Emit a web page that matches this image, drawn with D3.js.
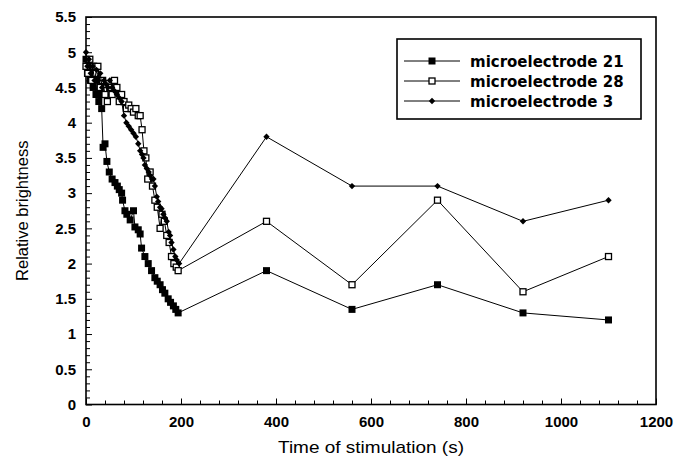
<!DOCTYPE html>
<html><head><meta charset="utf-8">
<script src="https://cdn.jsdelivr.net/npm/d3@7"></script>
<style>
html,body{margin:0;padding:0;background:#fff;}
svg{display:block;}
</style></head>
<body>
<div id="chart"></div>
<script>
// ---- data ----
const seriesNames = ["microelectrode 21", "microelectrode 28", "microelectrode 3"];
const t21 = [0,3,6,9,12,15,18,21,24,27,30,33,36,40,44,49,55,61,66,70,75,77,82,86,93,100,103,110,114,117,124,131,138,145,150,156,161,166,173,178,184,189,194,380,560,740,920,1100];
const v21 = [4.9,4.7,4.8,4.6,4.8,4.5,4.7,4.4,4.6,4.3,4.4,4.2,3.65,3.7,3.45,3.3,3.2,3.15,3.1,3.05,3.0,2.9,2.75,2.7,2.62,2.75,2.52,2.48,2.42,2.22,2.1,2.0,1.9,1.8,1.75,1.7,1.63,1.58,1.5,1.45,1.4,1.35,1.3,1.9,1.35,1.7,1.3,1.2];
const t28 = [0,4,8,12,16,20,25,30,35,40,45,50,55,60,65,70,75,80,85,90,95,100,105,110,114,118,122,126,130,135,140,145,150,156,160,165,170,175,180,185,190,194,380,560,740,920,1100];
const v28 = [4.8,4.7,4.9,4.6,4.8,4.7,4.8,4.5,4.6,4.4,4.3,4.5,4.4,4.6,4.5,4.3,4.4,4.3,4.2,4.25,4.2,4.15,4.2,4.1,4.1,3.9,3.6,3.5,3.2,3.3,3.1,2.9,2.8,2.5,2.7,2.6,2.4,2.3,2.1,2.0,1.95,1.9,2.6,1.7,2.9,1.6,2.1];
const t3 = [0,3,6,10,14,18,22,26,30,34,38,42,46,50,55,60,65,70,75,80,85,90,95,100,105,110,114,118,121,124,128,132,135,139,142,145,149,152,156,159,163,166,170,174,177,180,184,188,191,196,380,560,740,920,1100];
const v3 = [5.0,4.8,4.9,4.7,4.8,4.6,4.75,4.6,4.7,4.5,4.6,4.55,4.5,4.6,4.5,4.45,4.4,4.35,4.3,4.1,4.0,3.95,3.9,3.85,3.8,3.7,3.6,3.55,3.5,3.4,3.35,3.3,3.25,3.2,3.2,3.1,2.95,2.88,2.8,2.78,2.7,2.65,2.6,2.45,2.4,2.3,2.2,2.1,2.05,2.0,3.8,3.1,3.1,2.6,2.9];
const xTicks = [0,200,400,600,800,1000,1200];
const yTicks = [0,0.5,1,1.5,2,2.5,3,3.5,4,4.5,5,5.5];
const xTitle = "Time of stimulation (s)";
const yTitle = "Relative brightness";

// ---- layout ----
const W = 685, H = 467;
const m = {left: 86, top: 17, right: 29, bottom: 62.5};
const iw = W - m.left - m.right, ih = H - m.top - m.bottom;
const FONT = "'Liberation Sans', Arial, sans-serif";

const svg = d3.select("#chart").append("svg").attr("width", W).attr("height", H);
const g = svg.append("g").attr("transform", `translate(${m.left},${m.top})`);

const x = d3.scaleLinear().domain([0, 1200]).range([0, iw]);
const y = d3.scaleLinear().domain([0, 5.5]).range([ih, 0]);

// frame
g.append("rect").attr("x", 0).attr("y", 0).attr("width", iw).attr("height", ih)
  .attr("fill", "none").attr("stroke", "#000").attr("stroke-width", 1.6);

// minor ticks
const xMinor = d3.range(0, 1201, 40).filter(v => v % 200 !== 0);
const yMinor = d3.range(0, 56).map(i => i / 10).filter(v => Math.abs(v * 2 - Math.round(v * 2)) > 1e-6);

const xAxis = g.append("g").attr("transform", `translate(0,${ih})`)
  .call(d3.axisBottom(x).tickValues(xTicks).tickSizeInner(-6).tickSizeOuter(0).tickPadding(12).tickFormat(d3.format("d")));
const xAxisMinor = g.append("g").attr("transform", `translate(0,${ih})`)
  .call(d3.axisBottom(x).tickValues(xMinor).tickSizeInner(-4).tickSizeOuter(0).tickFormat(""));
const yAxis = g.append("g")
  .call(d3.axisLeft(y).tickValues(yTicks).tickSizeInner(-6).tickSizeOuter(0).tickPadding(10).tickFormat(d => String(d)));
const yAxisMinor = g.append("g")
  .call(d3.axisLeft(y).tickValues(yMinor).tickSizeInner(-4).tickSizeOuter(0).tickFormat(""));

[xAxis, xAxisMinor, yAxis, yAxisMinor].forEach(a => {
  a.select(".domain").remove();
  a.selectAll(".tick line").attr("stroke", "#000").attr("stroke-width", 1);
  a.selectAll("text").attr("fill", "#000")
    .style("font-family", FONT).style("font-weight", "bold").style("font-size", "15px");
});

// titles
svg.append("text").attr("x", m.left + iw / 2).attr("y", 453).attr("text-anchor", "middle")
  .attr("textLength", 186).attr("lengthAdjust", "spacingAndGlyphs")
  .style("font-family", FONT).style("font-size", "17px").text(xTitle);
svg.append("text").attr("transform", `translate(28,${m.top + ih / 2}) rotate(-90)`).attr("text-anchor", "middle")
  .style("font-family", FONT).style("font-size", "16.5px").text(yTitle);

// series
const series = [
  {name: seriesNames[0], t: t21, v: v21, shape: "filledSquare"},
  {name: seriesNames[1], t: t28, v: v28, shape: "openSquare"},
  {name: seriesNames[2], t: t3, v: v3, shape: "diamond"}
];
const line = d3.line().x(d => x(d[0])).y(d => y(d[1]));

function drawMarker(sel, shape) {
  if (shape === "filledSquare") {
    sel.append("rect").attr("x", -3.5).attr("y", -3.5).attr("width", 7).attr("height", 7).attr("fill", "#000");
  } else if (shape === "openSquare") {
    sel.append("rect").attr("x", -3).attr("y", -3).attr("width", 6).attr("height", 6)
      .attr("fill", "#fff").attr("stroke", "#000").attr("stroke-width", 1.3);
  } else {
    sel.append("path").attr("d", "M0,-3.2L3.2,0L0,3.2L-3.2,0Z").attr("fill", "#000");
  }
}

series.forEach(s => {
  const pts = s.t.map((t, i) => [t, s.v[i]]);
  g.append("path").datum(pts).attr("d", line).attr("fill", "none").attr("stroke", "#000").attr("stroke-width", 1);
  const mk = g.append("g").selectAll("g").data(pts).join("g")
    .attr("transform", d => `translate(${x(d[0])},${y(d[1])})`);
  mk.each(function() { drawMarker(d3.select(this), s.shape); });
});

// legend
const lg = svg.append("g");
lg.append("rect").attr("x", 397).attr("y", 39).attr("width", 244).attr("height", 80)
  .attr("fill", "#fff").attr("stroke", "#000").attr("stroke-width", 1.6);
series.forEach((s, i) => {
  const yy = 61 + i * 20;
  lg.append("line").attr("x1", 404).attr("x2", 460).attr("y1", yy).attr("y2", yy).attr("stroke", "#000").attr("stroke-width", 1);
  const mk = lg.append("g").attr("transform", `translate(432,${yy})`);
  drawMarker(mk, s.shape);
  lg.append("text").attr("x", 470).attr("y", yy + 5.5)
    .style("font-family", "'DejaVu Sans', sans-serif").style("font-weight", "bold").style("font-size", "15px")
    .text(s.name);
});
</script>
</body></html>
